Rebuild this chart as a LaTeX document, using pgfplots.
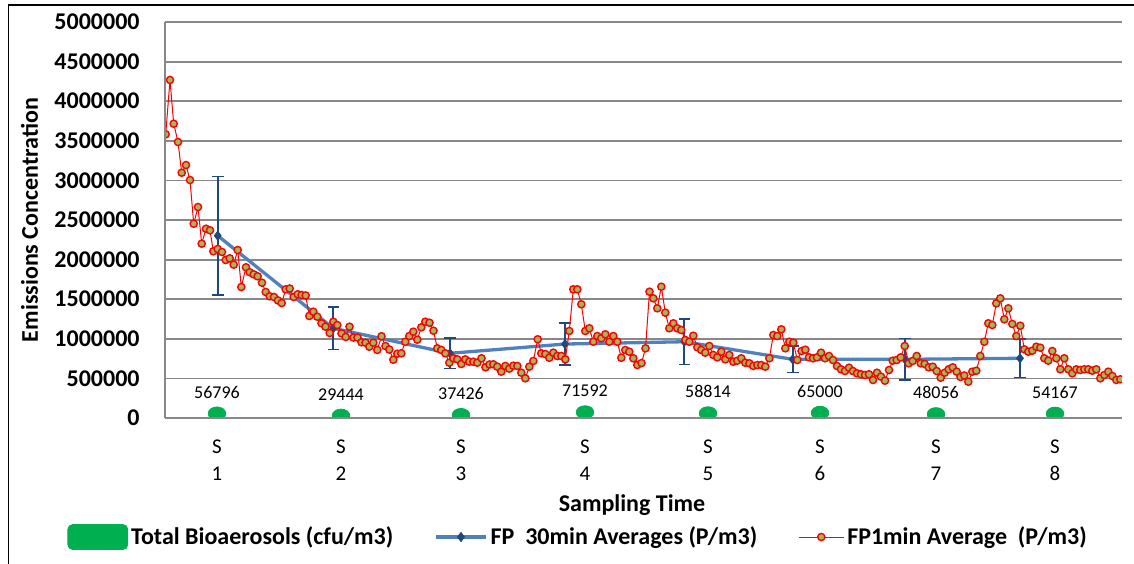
\documentclass[border=0pt]{standalone}
\usepackage{fontspec}
\setmainfont{Carlito}
\usepackage{pgfplots}
\pgfplotsset{compat=1.18}
\usepackage{pgfplotstable}
\definecolor{gridgray}{HTML}{888888}
\definecolor{olivefill}{HTML}{9BBB59}
\definecolor{blueline}{HTML}{4F81BD}
\definecolor{darkblue}{HTML}{1F497D}
\definecolor{bioGreen}{HTML}{00B050}

\pgfplotstableread{
x y
165.7 3582000
170.0 4268000
173.7 3716000
178.0 3485000
181.7 3097000
186.0 3194000
190.0 3005000
193.7 2453000
198.0 2664000
201.7 2201000
206.0 2390000
210.0 2370000
213.3 2105000
217.7 2134000
222.0 2096000
225.7 1995000
229.7 2016000
233.7 1936000
237.7 2121000
241.3 1654000
246.0 1903000
249.7 1840000
253.7 1814000
257.7 1789000
262.0 1708000
265.7 1591000
269.7 1537000
274.0 1528000
278.0 1484000
281.7 1452000
285.7 1625000
289.7 1635000
293.7 1528000
297.7 1563000
301.7 1553000
305.7 1547000
309.3 1288000
313.3 1342000
317.3 1279000
321.5 1196000
325.5 1153000
329.7 1073000
333.3 1216000
337.3 1174000
341.5 1069000
345.7 1023000
349.5 1153000
353.5 1016000
357.5 1016000
361.5 956000
365.5 951000
369.3 900000
373.3 951000
377.3 859000
381.5 1032000
385.5 909000
389.3 865000
393.3 736000
397.3 812000
401.3 817000
405.3 963000
409.3 1035000
413.3 1090000
417.3 989000
421.3 1145000
425.3 1216000
429.5 1203000
433.5 1102000
437.3 880000
441.3 859000
445.3 817000
449.3 698000
453.3 754000
457.3 741000
461.3 682000
465.3 741000
469.3 711000
473.3 711000
477.3 698000
481.5 754000
485.5 640000
489.5 676000
493.3 678000
497.3 648000
501.3 585000
505.3 657000
509.3 623000
513.3 660000
517.3 657000
521.3 572000
525.3 501000
529.3 648000
533.3 720000
537.7 994000
541.3 817000
545.3 808000
549.3 761000
553.3 825000
557.3 783000
561.3 783000
565.3 741000
569.3 1099000
573.3 1625000
577.3 1625000
581.3 1436000
585.3 1099000
589.3 1133000
593.3 963000
597.3 1035000
601.3 1006000
605.3 1057000
609.3 963000
613.3 1035000
617.3 963000
621.3 761000
625.3 859000
629.3 837000
633.3 754000
637.3 669000
641.5 694000
645.5 880000
649.5 1595000
653.3 1511000
657.3 1385000
661.3 1658000
665.3 1330000
669.3 1133000
673.3 1196000
677.3 1133000
681.3 1111000
685.3 985000
689.3 963000
693.3 1039000
697.3 893000
701.3 859000
705.3 825000
709.3 909000
713.3 796000
717.3 766000
721.3 837000
725.3 741000
729.3 796000
733.3 711000
737.3 724000
741.3 754000
745.3 698000
749.3 691000
753.3 657000
757.3 669000
761.3 669000
765.3 648000
769.3 754000
773.3 1048000
777.3 1035000
781.3 1120000
785.3 880000
789.3 963000
793.3 951000
797.3 732000
801.5 846000
805.3 862000
809.0 766000
813.0 754000
817.0 766000
821.0 825000
825.0 754000
829.0 783000
833.0 732000
837.0 657000
841.0 615000
845.0 593000
849.0 635000
853.0 593000
857.0 564000
861.0 552000
865.0 543000
869.0 552000
873.0 480000
877.0 572000
881.0 522000
885.0 471000
889.0 606000
892.7 724000
896.7 732000
900.7 766000
904.7 909000
908.7 691000
912.7 720000
916.7 783000
920.7 691000
924.7 682000
928.7 640000
932.7 648000
936.7 593000
940.7 509000
944.7 572000
948.7 615000
952.7 640000
956.7 585000
960.5 518000
964.3 537000
968.3 458000
972.3 585000
976.3 597000
980.3 783000
984.3 963000
988.3 1196000
992.3 1174000
996.3 1448000
1000.3 1511000
1004.3 1246000
1008.3 1385000
1012.3 1187000
1016.3 1035000
1020.3 1165000
1024.3 867000
1028.3 837000
1032.3 850000
1036.3 900000
1040.3 888000
1044.3 754000
1048.3 724000
1052.3 846000
1056.3 754000
1060.3 615000
1064.3 754000
1068.3 615000
1072.3 564000
1076.3 615000
1080.3 606000
1084.3 615000
1088.3 615000
1092.3 597000
1096.3 615000
1100.3 501000
1104.3 543000
1108.3 585000
1112.3 530000
1116.3 480000
1120.3 489000
}\fpone

\pgfplotstableread{
x y err
217.7 2302000 748000
333.3 1133000 267000
450.0 817000 190000
565.0 934000 267000
684.3 963000 288000
792.7 741000 168000
905.0 741000 263000
1020.0 754000 242000
}\fpthirty

\pgfplotstableread{
x y lab
217 56796 56796
341 29444 29444
461 37426 37426
585 71592 71592
708 58814 58814
820 65000 65000
936 48056 48056
1055 54167 54167
}\bio

\begin{document}
\begin{tikzpicture}
\useasboundingbox (0pt,0pt) rectangle (567pt,-281.5pt);
\begin{axis}[
  name=ax,
  at={(82.5pt,-209pt)}, anchor=south west,
  width=478.5pt, height=198pt, scale only axis,
  xmin=165, xmax=1122, ymin=0, ymax=5000000,
  scaled y ticks=false, scaled x ticks=false,
  ytick={0,500000,1000000,1500000,2000000,2500000,3000000,3500000,4000000,4500000,5000000},
  yticklabels={0,500000,1000000,1500000,2000000,2500000,3000000,3500000,4000000,4500000,5000000},
  xtick={217,341,461,585,708,820,936,1055},
  xticklabels={{S\\1},{S\\2},{S\\3},{S\\4},{S\\5},{S\\6},{S\\7},{S\\8}},
  major tick length=0pt,
  ymajorgrids, major grid style={gridgray, line width=0.9pt},
  axis line style={draw=none},
  clip mode=individual,
  clip marker paths=true,
  yticklabel style={font=\bfseries\fontsize{12}{14}\selectfont, inner sep=0pt, xshift=-12.5pt},
  xticklabel style={font=\fontsize{10.5}{13.5}\selectfont, align=center, inner sep=0pt, yshift=-10.5pt},
  xlabel={Sampling Time},
  xlabel style={at={(axis description cs:0.488,-0.2197)}, anchor=center, font=\bfseries\fontsize{12}{14}\selectfont},
  ylabel={Emissions Concentration},
  ylabel style={at={(axis description cs:-0.1416,0.5)}, anchor=center, font=\bfseries\fontsize{12}{14}\selectfont},
  legend style={at={(axis description cs:-0.1024,-0.3005)}, anchor=west, draw=none, fill=none,
    legend columns=3, font=\bfseries\fontsize{12}{14}\selectfont, inner sep=0pt,
    nodes={inner xsep=0.5pt},
    /tikz/every odd column/.append style={column sep=1pt},
    /tikz/every even column/.append style={column sep=20pt}},
  legend cell align=left,
]
\addplot[only marks, mark=*, color=bioGreen, mark size=4.4pt,
  mark options={yscale=0.75, fill=bioGreen, draw=bioGreen},
  legend image code/.code={\fill[bioGreen, rounded corners=2.5pt] (0pt,-6.25pt) rectangle (30pt,6.25pt);},
  nodes near coords, point meta=explicit symbolic,
  every node near coord/.append style={font=\fontsize{9}{11}\selectfont, anchor=center, yshift=10.75pt, text=black}]
  table[x=x, y=y, meta=lab]{\bio};
\addplot[color=blueline, line width=1.65pt, mark=diamond*, mark size=2.2pt,
  mark options={fill=darkblue, draw=darkblue, line width=0.5pt},
  legend image code/.code={\draw[mark repeat=2, mark phase=2] plot coordinates {(0pt,0pt) (12.5pt,0pt) (25pt,0pt)};},
  error bars/.cd, y dir=both, y explicit,
  error bar style={darkblue, line width=0.85pt},
  error mark options={rotate=90, darkblue, mark size=2.9pt, line width=0.85pt}]
  table[x=x, y=y, y error=err]{\fpthirty};
\addplot[color=red, line width=0.5pt, mark=*, mark size=1.8pt,
  mark options={fill=olivefill, draw=red, line width=0.7pt},
  legend image code/.code={\draw[mark repeat=2, mark phase=2] plot coordinates {(0pt,0pt) (11.25pt,0pt) (22.5pt,0pt)};}]
  table[x=x, y=y]{\fpone};
\legend{Total Bioaerosols (cfu/m3), FP\ \ 30min Averages (P/m3), FP1min Average\ \ (P/m3)}
\end{axis}
\fill[white] ([yshift=-0.45pt]ax.south west) rectangle ([yshift=-7pt]ax.south east);
\draw[gridgray, line width=0.9pt] (ax.south west) -- (ax.south east);
\draw[gridgray, line width=0.9pt] (ax.south west) -- (ax.north west);
\draw[black, line width=0.75pt] (4.15pt,-300pt) -- (4.15pt,-2.5pt) -- (600pt,-2.5pt);
\end{tikzpicture}
\end{document}
